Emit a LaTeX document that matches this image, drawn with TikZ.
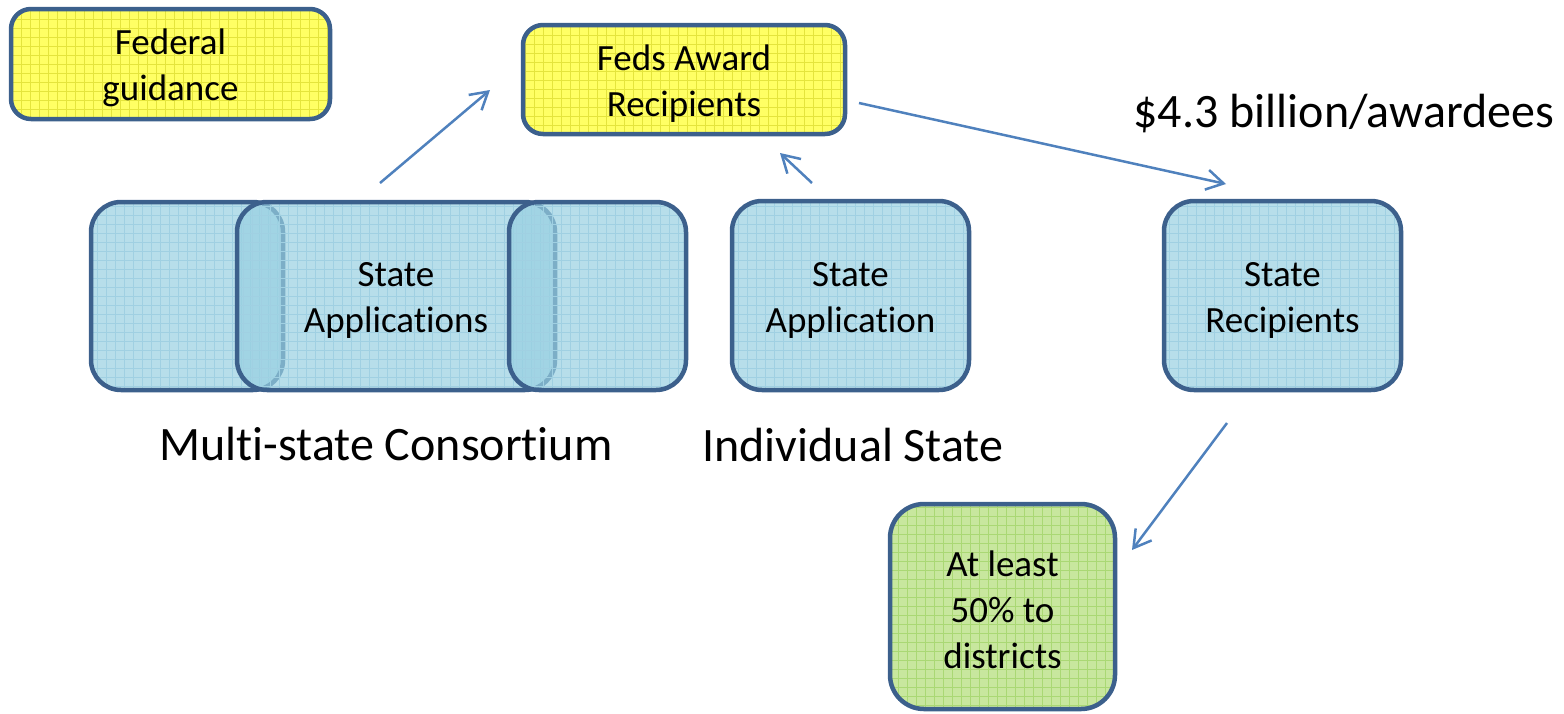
\documentclass[tikz,border=0pt]{standalone}
\usepackage{fontspec}
\setmainfont{Carlito}[Ligatures=NoCommon]
\usetikzlibrary{arrows.meta}
\definecolor{bord}{RGB}{60,96,140}
\definecolor{arr}{RGB}{79,129,189}
\definecolor{yel}{RGB}{255,255,100}
\definecolor{yelg}{RGB}{228,228,60}
\definecolor{blu}{RGB}{183,222,234}
\definecolor{blug}{RGB}{160,208,226}
\definecolor{blut}{RGB}{152,208,225}
\definecolor{grn}{RGB}{200,231,158}
\definecolor{grng}{RGB}{170,216,116}
\newcommand\firstup{\rule{0pt}{16.5pt}}
\tikzset{
  btext/.style={align=center, font=\fontsize{18.5}{23}\selectfont},
  sbox/.style={rectangle, draw=bord, line width=2.25pt, inner sep=0pt, btext},
  gridded/.style={path picture={\draw[#1, line width=0.35pt]
    (path picture bounding box.south west) grid[step=4.5pt] (path picture bounding box.north east);}},
  flow/.style={draw=arr, line width=1.25pt, -{Straight Barb[length=8.5pt,width=10pt,line width=1.25pt]}},
  lbl/.style={anchor=base, inner sep=0pt, font=\fontsize{24}{28}\selectfont},
}
\begin{document}
\begin{tikzpicture}[x=0.5pt,y=-0.5pt]
\useasboundingbox (0,0) rectangle (1564,713);
% yellow boxes
\node[sbox, fill=yel, gridded=yelg, rounded corners=10pt, minimum width=159.5pt, minimum height=55pt]
  (fed) at (170.5,64) {\firstup Federal\\guidance};
\node[sbox, fill=yel, gridded=yelg, rounded corners=10pt, minimum width=161pt, minimum height=54.5pt]
  (award) at (684,79.5) {\firstup Feds Award\\Recipients};
% consortium
\node[sbox, fill=blut, fill opacity=0.7, text opacity=1, gridded=blug, rounded corners=15pt,
  minimum width=96pt, minimum height=94pt] (consL) at (187,296) {};
\node[sbox, fill=blut, fill opacity=0.7, text opacity=1, gridded=blug, rounded corners=15pt,
  minimum width=159pt, minimum height=94pt] (consM) at (396,296) {};
\node[sbox, fill=blut, fill opacity=0.7, text opacity=1, gridded=blug, rounded corners=15pt,
  minimum width=88.5pt, minimum height=94pt] (consR) at (597.5,296) {};
\node[btext, inner sep=0pt] (consT) at (396,296) {\firstup State\\Applications};
% single state boxes
\node[sbox, fill=blu, gridded=blug, rounded corners=15pt, minimum width=118.5pt, minimum height=94.5pt]
  (app) at (850.5,295.5) {\firstup State\\Application};
\node[sbox, fill=blu, gridded=blug, rounded corners=15pt, minimum width=118.5pt, minimum height=94.5pt]
  (rec) at (1282.5,295.5) {\firstup State\\Recipients};
\node[sbox, fill=grn, gridded=grng, rounded corners=17pt, minimum width=112.5pt, minimum height=102.5pt]
  (dist) at (1002.5,606.5) {\firstup At least\\50\% to\\districts};
% labels
\node[lbl] (lmulti) at (386,460) {Multi-state Consortium};
\node[lbl] (lind) at (853,461) {Individual State};
\node[lbl] (lmoney) at (1344,127) {\$4.3 billion/awardees};
% arrows
\coordinate (a1s) at (380,183); \coordinate (a1e) at (490,90);
\coordinate (a2s) at (812,183); \coordinate (a2e) at (780,153);
\coordinate (a3s) at (859,103); \coordinate (a3e) at (1226,184);
\coordinate (a4s) at (1227,423); \coordinate (a4e) at (1132,550);
\draw[flow] (a1s) -- (a1e);
\draw[flow] (a2s) -- (a2e);
\draw[flow] (a3s) -- (a3e);
\draw[flow] (a4s) -- (a4e);
\end{tikzpicture}
\end{document}
